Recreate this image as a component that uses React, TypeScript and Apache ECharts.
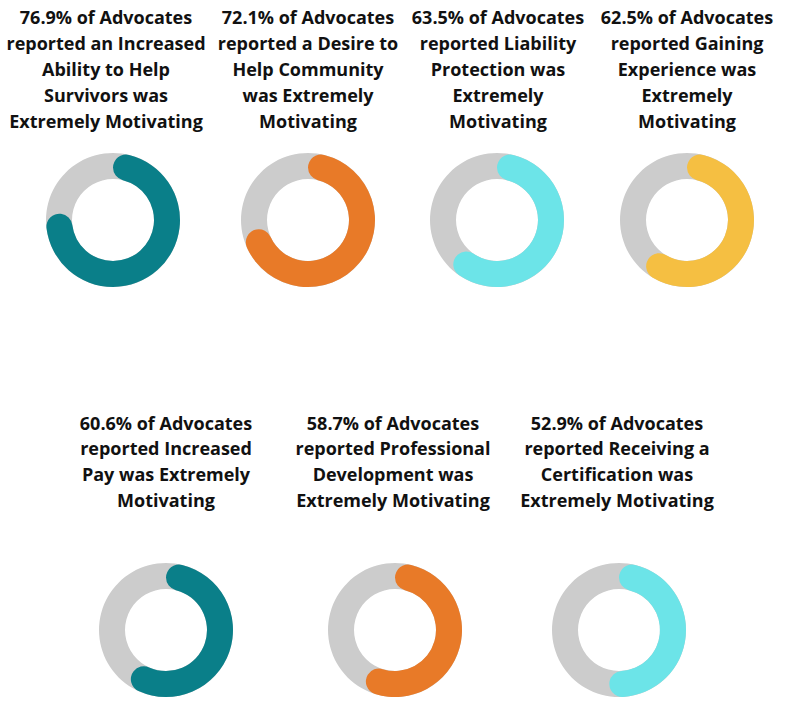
import React, { useEffect, useRef } from "react";
import * as echarts from "echarts";

const labels: string[] = [
  "76.9% of Advocates\nreported an Increased\nAbility to Help\nSurvivors was\nExtremely Motivating",
  "72.1% of Advocates\nreported a Desire to\nHelp Community\nwas Extremely\nMotivating",
  "63.5% of Advocates\nreported Liability\nProtection was\nExtremely\nMotivating",
  "62.5% of Advocates\nreported Gaining\nExperience was\nExtremely\nMotivating",
  "60.6% of Advocates\nreported Increased\nPay was Extremely\nMotivating",
  "58.7% of Advocates\nreported Professional\nDevelopment was\nExtremely Motivating",
  "52.9% of Advocates\nreported Receiving a\nCertification was\nExtremely Motivating",
];
const values: number[] = [76.9, 72.1, 63.5, 62.5, 60.6, 58.7, 52.9];
const colors: string[] = ["#0A7F89", "#E87A28", "#6CE4E8", "#F5BF42", "#0A7F89", "#E87A28", "#6CE4E8"];

// layout
const centersX = [113, 308, 497, 687, 166, 395, 619];
const titleX = [106, 308, 498, 687, 166, 393, 617];
const rowDonutY = [220, 630];
const rowTitleY = [4, 410];
const GRAY = "#CCCCCC";

export default function App() {
  const ref = useRef<HTMLDivElement>(null);
  useEffect(() => {
    if (!ref.current) return;
    const chart = echarts.init(ref.current, null, { renderer: "svg" });
    const series: any[] = [];
    const titles: any[] = [];
    values.forEach((v, i) => {
      const row = i < 4 ? 0 : 1;
      const center = [centersX[i], rowDonutY[row]];
      series.push({
        type: "pie",
        center,
        radius: [41, 67],
        silent: true,
        label: { show: false },
        labelLine: { show: false },
        emphasis: { disabled: true },
        data: [{ value: 100, itemStyle: { color: GRAY } }],
      });
      series.push({
        type: "pie",
        center,
        radius: [41, 67],
        silent: true,
        startAngle: 90,
        clockwise: true,
        label: { show: false },
        labelLine: { show: false },
        emphasis: { disabled: true },
        data: [
          { value: v, itemStyle: { color: colors[i], borderRadius: 13 } },
          { value: 100 - v, itemStyle: { color: "rgba(0,0,0,0)" } },
        ],
      });
      titles.push({
        text: labels[i],
        left: titleX[i],
        top: rowTitleY[row],
        textAlign: "center",
        padding: 0,
        textStyle: {
          fontFamily: "Open Sans",
          fontWeight: "bold",
          fontSize: 18,
          lineHeight: row === 0 ? 26 : 25.6,
          color: "#111111",
        },
      });
    });
    chart.setOption({
      animation: false,
      backgroundColor: "#ffffff",
      title: titles,
      series,
    });
    return () => chart.dispose();
  }, []);
  return (
    <div
      ref={ref}
      style={{ position: "absolute", left: 0, top: 0, width: 785, height: 714 }}
    />
  );
}
